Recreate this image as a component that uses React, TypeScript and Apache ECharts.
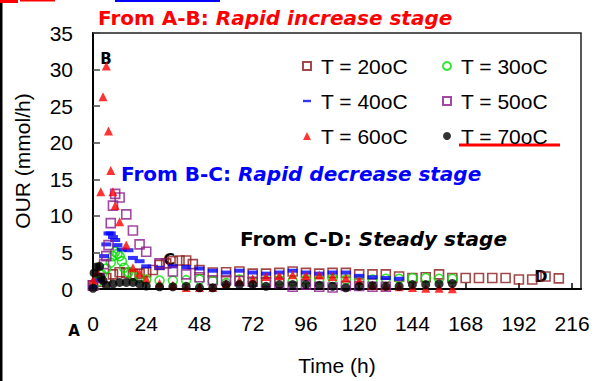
import React, { useEffect, useRef } from 'react';
import * as echarts from 'echarts';

const seriesNames = ['T = 20oC', 'T = 30oC', 'T = 40oC', 'T = 50oC', 'T = 60oC', 'T = 70oC'];

const t20 = [
  [0, 0.5], [3, 1.0], [6, 1.5], [9, 2.0], [12, 2.3], [15, 2.2], [18, 2.0], [21, 2.1], [24, 2.3], [27, 2.6],
  [30, 3.3], [33, 3.5], [36, 3.8], [39, 3.9], [42, 3.9], [45, 3.4], [48, 2.6], [54, 2.25], [60, 2.3], [66, 2.4],
  [72, 2.1], [78, 2.1], [84, 2.2], [90, 2.4], [96, 2.2], [102, 2.1], [108, 2.2], [114, 2.2], [120, 2.0], [126, 2.0],
  [132, 2.0], [138, 1.7], [144, 1.5], [150, 1.6], [156, 2.0], [162, 1.5], [168, 1.5], [174, 1.5], [180, 1.5],
  [186, 1.5], [192, 1.3], [198, 1.3], [204, 1.7], [210, 1.45]
];
const t30 = [
  [0, 0.5], [2, 1.0], [4, 2.0], [6, 2.8], [8, 3.6], [9, 4.5], [10, 5.1], [11, 4.8], [12, 4.5], [13, 3.8],
  [14, 2.9], [16, 2.3], [18, 1.8], [21, 1.5], [24, 1.3], [30, 1.15], [36, 1.15], [42, 1.2], [48, 1.3], [54, 1.1],
  [60, 0.8], [66, 1.3], [72, 1.0], [78, 1.1], [84, 1.2], [90, 1.1], [96, 1.3], [102, 1.3], [108, 1.4], [114, 1.3],
  [120, 1.2], [126, 1.3], [132, 1.4], [138, 1.4], [144, 1.5], [150, 1.5], [156, 1.4], [162, 1.4]
];
const t40 = [
  [0, 0.3], [3, 1.2], [5, 4.5], [6, 6.1], [7, 7.6], [8, 7.6], [9, 7.1], [10, 6.7], [11, 6.0], [13, 5.4],
  [16, 5.3], [18, 4.25], [21, 3.8], [24, 3.1], [30, 2.9], [36, 3.1], [42, 3.0], [48, 2.8], [54, 2.5], [60, 2.25],
  [66, 2.5], [72, 2.25], [78, 2.1], [84, 2.25], [90, 2.5], [96, 2.25], [102, 2.1], [108, 2.25], [114, 2.25],
  [120, 1.8], [126, 1.6], [132, 1.5], [138, 1.4]
];
const t50 = [
  [0, 0.5], [3, 1.5], [5, 3.4], [6, 4.5], [7, 6.0], [8, 9.0], [9, 11.4], [10, 13.0], [12, 12.5], [15, 10.2],
  [18, 8.0], [21, 6.1], [24, 5.1], [30, 3.5], [36, 2.4], [42, 2.0], [48, 1.6], [54, 1.2], [60, 1.2], [66, 1.1],
  [72, 1.0], [78, 0.9], [84, 0.8], [90, 0.3], [96, 0.6], [102, 0.3], [108, 0.2], [114, 0.4], [120, 0.4],
  [126, 0.3], [132, 0.3]
];
const t60 = [
  [0, 1.2], [2, 2.4], [3.5, 13.3], [4.5, 26.3], [6, 30.5], [7, 21.6], [8, 16.2], [9, 13.3], [10, 11.4], [12, 9.2],
  [15, 6.0], [18, 2.9], [21, 2.2], [24, 1.4], [30, 0.8], [36, 0.5], [42, 0.2], [48, 0.2], [54, 0.2], [60, 0.8],
  [66, 1.2], [72, 1.4], [78, 1.7], [84, 1.8], [90, 1.95], [96, 1.8], [102, 1.9], [108, 1.7], [114, 1.5],
  [120, 1.15], [126, 0.5], [132, 0.4], [138, 0.3], [144, 0.2], [150, 0.1], [156, 0.1], [162, 0.05]
];
const t70 = [
  [0, 0.1], [0.5, 2.2], [1.5, 3.0], [3, 3.1], [3.5, 1.6], [4.5, 1.15], [6, 0.5], [9, 0.7], [12, 0.9], [15, 0.9],
  [18, 0.9], [21, 0.7], [24, 0.4], [30, 0.3], [36, 0.3], [42, 0.36], [48, 0.17], [54, 0.17], [60, 0.6], [66, 0.6],
  [72, 0.6], [78, 0.36], [84, 0.6], [90, 0.6], [96, 0.6], [102, 0.5], [108, 0.36], [114, 0.17], [120, 0.36],
  [126, 0.45], [132, 0.36], [138, 0.36], [144, 0.6], [150, 0.6], [156, 0.7], [162, 0.75]
];

const ARIAL = '"Liberation Sans", Arial, sans-serif';
const BOLD = '"DejaVu Sans", Verdana, sans-serif';

export default function App() {
  const ref = useRef<HTMLDivElement>(null);
  useEffect(() => {
    document.body.style.margin = '0';
    const chart = echarts.init(ref.current!, null, { renderer: 'svg' });
    const hollow = (c: string) => ({ color: 'rgba(0,0,0,0)', borderColor: c, borderWidth: 1.6 });
    const annot = (x: number, y: number, a: string, b: string, fill: string) => ({
      type: 'text', x, y,
      style: {
        text: `{n|${a}}{i|${b}}`,
        rich: {
          n: { fontFamily: BOLD, fontWeight: 'bold', fontSize: 20, fill },
          i: { fontFamily: BOLD, fontWeight: 'bold', fontStyle: 'italic', fontSize: 20, fill },
        },
        verticalAlign: 'middle', align: 'left',
      },
    });
    chart.setOption({
      animation: false,
      backgroundColor: '#fff',
      grid: { left: 93, top: 33, width: 488, height: 264, show: true, borderColor: '#222', borderWidth: 1.5 },
      xAxis: {
        type: 'value', min: 0, max: 220, interval: 24,
        name: 'Time (h)', nameLocation: 'middle', nameGap: 66,
        nameTextStyle: { fontFamily: ARIAL, fontSize: 21, color: '#000' },
        axisLine: { show: true, lineStyle: { color: '#000', width: 2 } },
        axisTick: { show: true, inside: true, length: 6, lineStyle: { color: '#000', width: 1.5 } },
        axisLabel: { showMaxLabel: false, margin: 24, fontFamily: ARIAL, fontSize: 21, color: '#000' },
        splitLine: { show: false },
      },
      yAxis: {
        type: 'value', min: 0, max: 35, interval: 5,
        name: 'OUR (mmol/h)', nameLocation: 'middle', nameGap: 60,
        nameTextStyle: { fontFamily: ARIAL, fontSize: 21, color: '#000' },
        axisLine: { show: true, lineStyle: { color: '#000', width: 2 } },
        axisTick: { show: true, inside: true, length: 7, lineStyle: { color: '#444', width: 1.5 } },
        axisLabel: { margin: 20, fontFamily: ARIAL, fontSize: 21, color: '#000' },
        splitLine: { show: false },
      },
      legend: [
        {
          left: 302, top: 55, orient: 'vertical', padding: 0, itemGap: 13, itemWidth: 8, itemHeight: 8,
          textStyle: { fontFamily: ARIAL, fontSize: 21, lineHeight: 22, color: '#000', padding: [0, 0, 0, 5] },
          data: [
            { name: seriesNames[0], icon: 'rect' },
            { name: seriesNames[2], icon: 'path://M0,0H10V3H0Z' },
            { name: seriesNames[4], icon: 'triangle' },
          ],
        },
        {
          left: 442, top: 55, orient: 'vertical', padding: 0, itemGap: 13, itemWidth: 8, itemHeight: 8,
          textStyle: { fontFamily: ARIAL, fontSize: 21, lineHeight: 22, color: '#000', padding: [0, 0, 0, 5] },
          data: [
            { name: seriesNames[1], icon: 'circle' },
            { name: seriesNames[3], icon: 'rect' },
            { name: seriesNames[5], icon: 'circle' },
          ],
        },
      ],
      series: [
        { name: seriesNames[0], type: 'scatter', data: t20, symbol: 'rect', symbolSize: 9, itemStyle: hollow('#8B1A1A') },
        { name: seriesNames[1], type: 'scatter', data: t30, symbol: 'circle', symbolSize: 9, itemStyle: hollow('#00E000') },
        { name: seriesNames[2], type: 'scatter', data: t40, symbol: 'rect', symbolSize: [10, 4], itemStyle: { color: '#0000FF' } },
        { name: seriesNames[3], type: 'scatter', data: t50, symbol: 'rect', symbolSize: 9, itemStyle: hollow('#8B1A8B') },
        { name: seriesNames[4], type: 'scatter', data: t60, symbol: 'triangle', symbolSize: 9, itemStyle: { color: '#FF0000' } },
        { name: seriesNames[5], type: 'scatter', data: t70, symbol: 'circle', symbolSize: 9, itemStyle: { color: '#000' } },
      ],
      graphic: [
        { type: 'rect', shape: { x: 0, y: 0, width: 2.5, height: 381 }, style: { fill: '#000' } },
        { type: 'rect', shape: { x: 0, y: 0, width: 18, height: 3 }, style: { fill: '#FF0000' } },
        { type: 'rect', shape: { x: 20, y: 0, width: 35, height: 1.5 }, style: { fill: '#FF0000' } },
        { type: 'rect', shape: { x: 115, y: 0, width: 105, height: 2 }, style: { fill: '#0000FF' } },
        { type: 'line', shape: { x1: 459, y1: 145, x2: 560, y2: 145 }, style: { stroke: '#FF0000', lineWidth: 3 } },
        annot(98, 18, 'From A-B: ', 'Rapid increase stage', '#FF0000'),
        annot(121, 174, 'From B-C: ', 'Rapid decrease stage', '#0000FF'),
        annot(240, 239, 'From C-D: ', 'Steady stage', '#000000'),
        { type: 'text', x: 106, y: 59, style: { text: 'B', font: `bold 15px ${BOLD}`, fill: '#000', align: 'center', verticalAlign: 'middle' } },
        { type: 'text', x: 169, y: 259, style: { text: 'C', font: `bold 16px ${BOLD}`, fill: '#000', align: 'center', verticalAlign: 'middle' } },
        { type: 'text', x: 541, y: 276, style: { text: 'D', font: `bold 16px ${BOLD}`, fill: '#000', align: 'center', verticalAlign: 'middle' } },
        { type: 'text', x: 74, y: 331, style: { text: 'A', font: `bold 15px ${BOLD}`, fill: '#000', align: 'center', verticalAlign: 'middle' } },
      ],
    });
    return () => chart.dispose();
  }, []);
  return <div ref={ref} style={{ width: 602, height: 381 }} />;
}
